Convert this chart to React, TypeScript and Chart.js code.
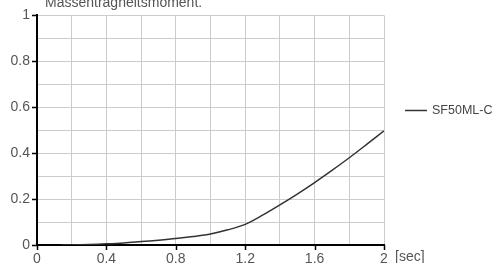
import React, { useEffect, useRef } from "react";
import { Chart, registerables } from "chart.js";
Chart.register(...registerables);

const xValues = [0.14, 0.2, 0.3, 0.4, 0.5, 0.6, 0.7, 0.8, 0.9, 1.0, 1.1, 1.2, 1.3, 1.4, 1.5, 1.6, 1.7, 1.8, 1.9, 2.0];
const yValues = [0, 0.0005, 0.002, 0.005, 0.009, 0.015, 0.021, 0.028, 0.037, 0.048, 0.066, 0.09, 0.13, 0.175, 0.222, 0.272, 0.325, 0.38, 0.438, 0.497];
const seriesName = "SF50ML-C";
const titleText = "Massenträgheitsmoment.";
const xUnit = "[sec]";
const xLabelTicks = [0, 0.4, 0.8, 1.2, 1.6, 2];
const yLabelTicks = [0, 0.2, 0.4, 0.6, 0.8, 1];

const FONT = "'Liberation Sans', Arial, sans-serif";

export default function App() {
  const ref = useRef<HTMLCanvasElement>(null);
  useEffect(() => {
    if (!ref.current) return;
    const extras = {
      id: "extras",
      afterDraw(chart: any) {
        const ctx = chart.ctx;
        const xs = chart.scales.x;
        const ys = chart.scales.y;
        const area = chart.chartArea;
        ctx.save();
        ctx.strokeStyle = "#000";
        ctx.lineWidth = 1.5;
        ctx.beginPath();
        for (const v of xLabelTicks) {
          const px = Math.round(xs.getPixelForValue(v)) + 0.5;
          ctx.moveTo(px, area.bottom);
          ctx.lineTo(px, area.bottom + 5);
        }
        for (const v of yLabelTicks) {
          const py = Math.round(ys.getPixelForValue(v)) + 0.5;
          ctx.moveTo(area.left - 5, py);
          ctx.lineTo(area.left, py);
        }
        ctx.stroke();
        ctx.fillStyle = "#555";
        ctx.font = `14px ${FONT}`;
        ctx.textBaseline = "alphabetic";
        ctx.textAlign = "left";
        ctx.fillText(titleText, 45, 7);
        ctx.textBaseline = "middle";
        ctx.fillText(xUnit, 395, 257);
        ctx.strokeStyle = "#333";
        ctx.lineWidth = 1.5;
        ctx.beginPath();
        ctx.moveTo(405, 110.5);
        ctx.lineTo(427, 110.5);
        ctx.stroke();
        ctx.fillStyle = "#444";
        ctx.font = `12.5px ${FONT}`;
        ctx.fillText(seriesName, 432, 111);
        ctx.restore();
      },
    };
    const chart = new Chart(ref.current, {
      type: "line",
      data: {
        datasets: [
          {
            label: seriesName,
            data: xValues.map((x, i) => ({ x, y: yValues[i] })),
            borderColor: "#333",
            borderWidth: 1.5,
            pointRadius: 0,
            tension: 0.3,
            fill: false,
          },
        ],
      },
      options: {
        responsive: false,
        animation: false,
        devicePixelRatio: 1,
        layout: { padding: { top: 15, right: 117, left: 0, bottom: 0 } },
        plugins: { legend: { display: false }, title: { display: false }, tooltip: { enabled: false } },
        scales: {
          x: {
            type: "linear",
            min: 0,
            max: 2,
            afterFit: (s: any) => { s.height = 18; },
            border: { color: "#000", width: 2 },
            grid: { color: "#cccccc", lineWidth: 1, drawTicks: false },
            ticks: {
              stepSize: 0.2,
              padding: 6,
              color: "#555",
              font: { family: FONT, size: 14 },
              maxRotation: 0,
              autoSkip: false,
              callback: (v: any) => {
                const n = Math.round(Number(v) * 10);
                return n % 4 === 0 ? String(n / 10) : "";
              },
            },
          },
          y: {
            type: "linear",
            min: 0,
            max: 1,
            afterFit: (s: any) => { s.width = 37; },
            border: { color: "#000", width: 2 },
            grid: { color: "#cccccc", lineWidth: 1, drawTicks: false },
            ticks: {
              stepSize: 0.1,
              padding: 7,
              color: "#555",
              font: { family: FONT, size: 14 },
              autoSkip: false,
              callback: (v: any) => {
                const n = Math.round(Number(v) * 10);
                return n % 2 === 0 ? String(n / 10) : "";
              },
            },
          },
        },
      },
      plugins: [extras],
    });
    return () => chart.destroy();
  }, []);
  return (
    <div style={{ position: "absolute", left: 0, top: 0, width: 501, height: 263, background: "#fff" }}>
      <canvas ref={ref} width={501} height={263} style={{ width: 501, height: 263 }} />
    </div>
  );
}
